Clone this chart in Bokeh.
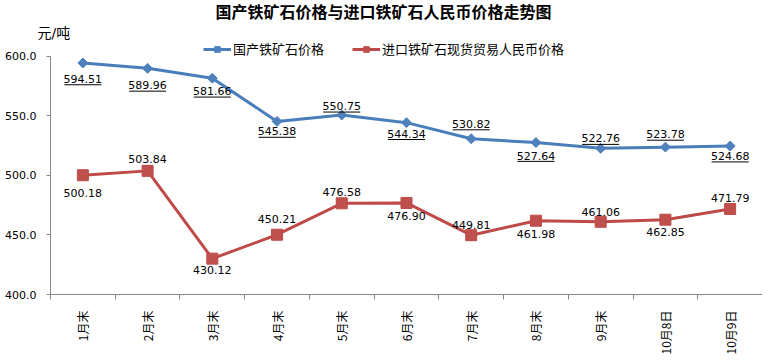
import math
from bokeh.plotting import figure
from bokeh.models import (Range1d, FixedTicker, NumeralTickFormatter, Title,
                          Legend, LegendItem)
from bokeh.embed import file_html
from bokeh.resources import INLINE
from bokeh.core.properties import value

# ---- data ----
categories = ["1月末", "2月末", "3月末", "4月末", "5月末", "6月末",
              "7月末", "8月末", "9月末", "10月8日", "10月9日"]
domestic = [594.51, 589.96, 581.66, 545.38, 550.75, 544.34,
            530.82, 527.64, 522.76, 523.78, 524.68]
imported = [500.18, 503.84, 430.12, 450.21, 476.58, 476.90,
            449.81, 461.98, 461.06, 462.85, 471.79]
y_ticks = [400, 450, 500, 550, 600]
series_names = ["国产铁矿石价格", "进口铁矿石现货贸易人民币价格"]
title_text = "国产铁矿石价格与进口铁矿石人民币价格走势图"
unit_text = "元/吨"

# label placement (screen px, positive = below the point)
dom_label_dy = [16, 17, 13, 10, -9, 11, -15, 13, -10, -13, 10]
imp_label_dy = [18, -12, 11, -16, -11, 13, -10, 13, -10, 12, -11]

xs = list(range(1, len(categories) + 1))

BLUE_LINE = "#4A7EBB"
BLUE_FILL = "#4F81BD"
RED_LINE = "#BE4B48"
RED_FILL = "#C0504D"
AXIS_C = "#868686"
CJK = "Noto Sans CJK SC"
TITLE_FONT = "DejaVu Sans, Noto Sans CJK SC"
NUM = "DejaVu Sans"

y0, y1 = 400, 600
AXIS_PX = 240          # pixels between 400 and 600
TOP_BORDER = 42
TOP_PAD_PX = 56 - TOP_BORDER   # frame space above the 600 line (holds the legend)
px_unit = (y1 - y0) / AXIS_PX
y_end = y1 + TOP_PAD_PX * px_unit

p = figure(width=762, height=357,
           x_range=Range1d(0.5, len(categories) + 0.5),
           y_range=Range1d(y0, y_end),
           output_backend="svg", toolbar_location=None, title=None,
           min_border_left=50, min_border_right=0,
           min_border_top=TOP_BORDER, min_border_bottom=61,
           outline_line_color=None, background_fill_color="white",
           border_fill_color="white")
p.xgrid.visible = False
p.ygrid.visible = False

# y axis
ya = p.yaxis[0]
ya.bounds = (y0, y1)
ya.ticker = FixedTicker(ticks=y_ticks)
ya.formatter = NumeralTickFormatter(format="0.0")
ya.major_tick_out = 4
ya.major_tick_in = 0
ya.minor_tick_out = 0
ya.minor_tick_in = 0
ya.axis_line_color = AXIS_C
ya.major_tick_line_color = AXIS_C
ya.major_label_text_font = NUM
ya.major_label_text_font_size = "11px"
ya.major_label_text_color = "black"
ya.major_label_standoff = 10

# x axis
xa = p.xaxis[0]
xa.ticker = FixedTicker(ticks=xs, minor_ticks=[x - 0.5 for x in xs] + [xs[-1] + 0.5])
xa.major_label_overrides = {x: c for x, c in zip(xs, categories)}
xa.major_tick_out = 0
xa.major_tick_in = 0
xa.minor_tick_out = 5
xa.minor_tick_in = 0
xa.axis_line_color = AXIS_C
xa.minor_tick_line_color = AXIS_C
xa.major_label_orientation = math.pi / 2
xa.major_label_text_font = CJK
xa.major_label_text_font_size = "12px"
xa.major_label_text_color = "black"
xa.major_label_standoff = 11

# series
l1 = p.line(xs, domestic, line_color=BLUE_LINE, line_width=3)
s1 = p.scatter(xs, domestic, marker="square", angle=math.pi / 4, size=7,
               fill_color=BLUE_FILL, line_color=BLUE_LINE)
l2 = p.line(xs, imported, line_color=RED_LINE, line_width=3)
s2 = p.scatter(xs, imported, marker="square", size=11,
               fill_color=RED_FILL, line_color=RED_LINE)

# data labels
p.text(x=xs, y=domestic, text=[f"{v:.2f}" for v in domestic],
       y_offset=dom_label_dy, text_align="center", text_baseline="middle",
       text_font=value(NUM), text_font_size="11px", text_color="black")
p.scatter(x=xs, y=[v - (d + 6) * px_unit for v, d in zip(domestic, dom_label_dy)],
          marker="dash", size=37, line_color="black", line_width=1)
p.text(x=xs, y=imported, text=[f"{v:.2f}" for v in imported],
       y_offset=imp_label_dy, text_align="center", text_baseline="middle",
       text_font=value(NUM), text_font_size="11px", text_color="black")

# legend inside the frame's top strip
legend = Legend(items=[LegendItem(label=series_names[0], renderers=[l1, s1]),
                       LegendItem(label=series_names[1], renderers=[l2, s2])],
                orientation="horizontal", location=(153, AXIS_PX - 4),
                padding=0, margin=0, spacing=28, glyph_width=28, glyph_height=14,
                label_height=14,
                label_standoff=2, label_text_font=TITLE_FONT, label_text_font_size="13px",
                label_text_color="black", border_line_color=None,
                background_fill_alpha=0)
p.add_layout(legend)

# unit and title
p.add_layout(Title(text=unit_text, align="left", offset=-13, standoff=3,
                   text_font=TITLE_FONT, text_font_size="14px", text_font_style="normal",
                   text_color="black"), "above")
p.add_layout(Title(text=title_text, align="left", offset=165, standoff=0,
                   text_font=TITLE_FONT, text_font_size="16px", text_font_style="bold",
                   text_color="black"), "above")

open("out.html", "w").write(file_html(p, INLINE))
